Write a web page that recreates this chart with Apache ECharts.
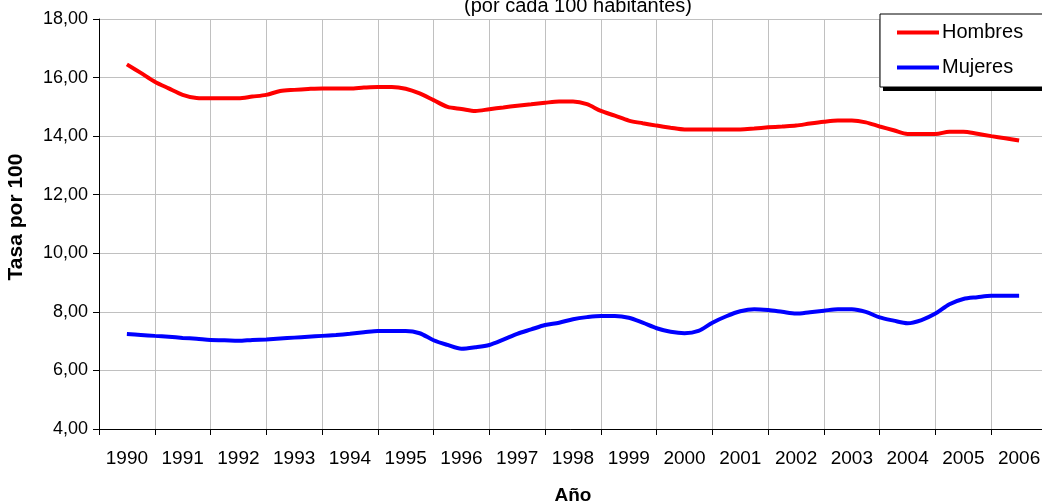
<!DOCTYPE html>
<html>
<head>
<meta charset="utf-8">
<script src="https://cdn.jsdelivr.net/npm/echarts@6/dist/echarts.min.js"></script>
<style>
html,body{margin:0;padding:0;background:#fff;}
#chart{width:1042px;height:504px;}
</style>
</head>
<body>
<div id="chart"></div>
<script>
// Categories (years) shown on the axis
var years = ['1990','1991','1992','1993','1994','1995','1996','1997','1998','1999','2000','2001','2002','2003','2004','2005','2006'];
// Quarterly values, 1990 T1 .. 2006 T1 (65 points)
var hombres = [
  16.45,16.16,15.86,15.63,15.41,15.30,15.29,15.29,
  15.29,15.35,15.41,15.54,15.58,15.61,15.63,15.63,
  15.63,15.66,15.68,15.68,15.62,15.46,15.23,15.00,
  14.93,14.86,14.92,14.98,15.04,15.09,15.14,15.18,
  15.18,15.09,14.86,14.70,14.53,14.44,14.36,14.29,
  14.23,14.23,14.23,14.23,14.23,14.26,14.30,14.33,
  14.36,14.43,14.49,14.53,14.53,14.47,14.33,14.20,
  14.07,14.07,14.07,14.15,14.15,14.08,14.00,13.93,
  13.85
];
var mujeres = [
  7.24,7.21,7.18,7.15,7.11,7.08,7.04,7.03,
  7.01,7.04,7.06,7.09,7.12,7.15,7.18,7.21,
  7.25,7.30,7.35,7.35,7.35,7.27,7.03,6.87,
  6.74,6.79,6.87,7.05,7.25,7.40,7.55,7.63,
  7.75,7.82,7.86,7.86,7.80,7.63,7.44,7.32,
  7.27,7.35,7.63,7.85,8.02,8.09,8.06,8.00,
  7.94,7.99,8.04,8.09,8.09,8.00,7.81,7.70,
  7.61,7.72,7.94,8.26,8.44,8.50,8.55,8.55,
  8.55
];
var firstYear = 1990;

function toXY(arr){
  return arr.map(function(v,i){ return [firstYear + i/4, v]; });
}

var font = "'Liberation Sans', Arial, sans-serif";
var chart = echarts.init(document.getElementById('chart'));
chart.setOption({
  animation: false,
  backgroundColor: '#ffffff',
  title: {
    text: '(por cada 100 habitantes)',
    left: 573, textAlign: 'center', top: -9,
    textStyle: {fontFamily: font, fontSize: 20, fontWeight: 'normal', color: '#000'}
  },
  graphic: [{
    type: 'rect', z: 3, silent: true,
    shape: {x: 883, y: 19, width: 200, height: 72},
    style: {fill: '#000000'}
  }],
  legend: {
    z: 5,
    orient: 'vertical',
    left: 880, top: 14,
    padding: [8, 40, 9, 17],
    itemGap: 14,
    itemWidth: 42, itemHeight: 4,
    icon: 'rect',
    backgroundColor: '#ffffff',
    borderColor: '#000000', borderWidth: 1, borderRadius: 0,
    textStyle: {fontFamily: font, fontSize: 20, color: '#000', padding: [0,0,0,-2], lineHeight: 21},
    data: ['Hombres', 'Mujeres']
  },
  grid: {left: 99, top: 19, width: 948, height: 410, outerBoundsMode: 'none', containLabel: false},
  xAxis: [{
    type: 'category',
    data: years,
    boundaryGap: true,
    name: 'Año',
    nameLocation: 'middle',
    nameGap: 57,
    nameTextStyle: {fontFamily: font, fontSize: 19, fontWeight: 'bold', color: '#000'},
    axisLine: {lineStyle: {color: '#000', width: 1}},
    axisTick: {show: true, length: 6, lineStyle: {color: '#000'}},
    axisLabel: {fontFamily: font, fontSize: 19, color: '#000', margin: 20, interval: 0},
    splitLine: {show: true, lineStyle: {color: '#c0c0c0', width: 1}}
  }, {
    type: 'value',
    min: 1989.5, max: 2006.5,
    show: false,
    splitLine: {show: false}
  }],
  yAxis: {
    type: 'value',
    min: 4, max: 18, interval: 2,
    name: 'Tasa por 100',
    nameLocation: 'middle',
    nameGap: 72,
    nameRotate: 90,
    nameTextStyle: {fontFamily: font, fontSize: 21, fontWeight: 'bold', color: '#000', padding: [0, 0, 0, 14]},
    axisLine: {show: true, lineStyle: {color: '#000', width: 1}},
    axisTick: {show: true, length: 6, lineStyle: {color: '#000'}},
    axisLabel: {fontFamily: font, fontSize: 18, color: '#000', margin: 11,
      formatter: function(v){ return v.toFixed(2).replace('.', ','); }},
    splitLine: {show: true, lineStyle: {color: '#c0c0c0', width: 1}}
  },
  series: [{
    name: 'Hombres', type: 'line', xAxisIndex: 1,
    data: toXY(hombres),
    showSymbol: false, smooth: 0.3,
    lineStyle: {color: '#ff0000', width: 4},
    itemStyle: {color: '#ff0000'}
  }, {
    name: 'Mujeres', type: 'line', xAxisIndex: 1,
    data: toXY(mujeres),
    showSymbol: false, smooth: 0.3,
    lineStyle: {color: '#0000ff', width: 4},
    itemStyle: {color: '#0000ff'}
  }]
});
</script>
</body>
</html>
